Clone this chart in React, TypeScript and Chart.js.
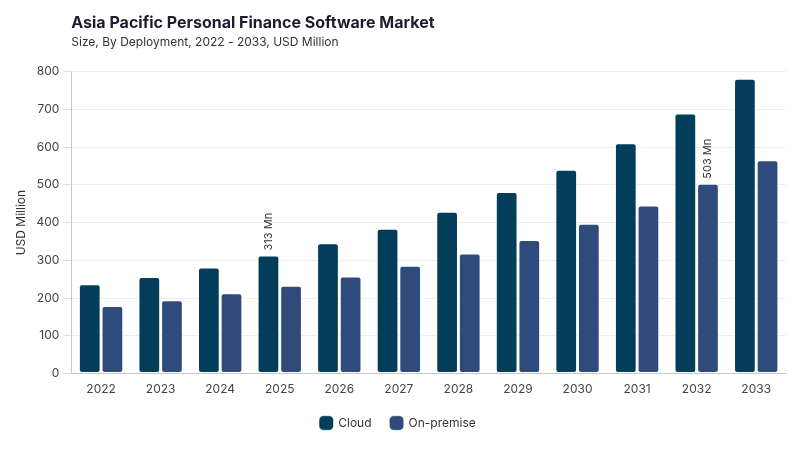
import React, { useEffect, useRef } from 'react';
import { Chart, registerables } from 'chart.js';

Chart.register(...registerables);

const years = ['2022', '2023', '2024', '2025', '2026', '2027', '2028', '2029', '2030', '2031', '2032', '2033'];
const cloud = [237, 256, 281, 313, 345, 384, 429, 481, 540, 610, 689, 781];
const onPremise = [179, 194, 213, 233, 257, 286, 318, 354, 397, 445, 503, 565];
const seriesNames = ['Cloud', 'On-premise'];
const seriesColors = ['#023e5a', '#2f4b7c'];

// which bars carry a rotated value label: [dataset index, category index, text]
const callouts: [number, number, string][] = [
  [0, 3, '313 Mn'],
  [1, 10, '503 Mn'],
];

const FONT = 'Inter, "Noto Sans", sans-serif';

const calloutPlugin = {
  id: 'callouts',
  afterDatasetsDraw(chart: Chart) {
    const ctx = chart.ctx;
    ctx.save();
    ctx.font = `11px ${FONT}`;
    ctx.fillStyle = '#333';
    ctx.textAlign = 'left';
    ctx.textBaseline = 'middle';
    callouts.forEach(([ds, idx, text]) => {
      const bar: any = chart.getDatasetMeta(ds).data[idx];
      if (!bar) return;
      ctx.save();
      ctx.translate(bar.x, bar.y - 5);
      ctx.rotate(-Math.PI / 2);
      ctx.fillText(text, 0, 0);
      ctx.restore();
    });
    ctx.restore();
  },
};

export default function App() {
  const canvasRef = useRef<HTMLCanvasElement>(null);

  useEffect(() => {
    document.body.style.margin = '0';
    if (!canvasRef.current) return;
    const chart = new Chart(canvasRef.current, {
      type: 'bar',
      data: {
        labels: years,
        datasets: [cloud, onPremise].map((values, i) => ({
          label: seriesNames[i],
          data: values,
          backgroundColor: seriesColors[i],
          borderColor: 'rgba(255,255,255,0.6)',
          borderWidth: 1,
          borderRadius: 3,
          borderSkipped: false,
          categoryPercentage: 0.76,
          barPercentage: 0.96,
        })),
      },
      options: {
        animation: false,
        responsive: false,
        layout: { padding: { top: 14, right: 14, left: 10, bottom: 11 } },
        plugins: {
          title: {
            display: true,
            text: 'Asia Pacific Personal Finance Software Market',
            align: 'start',
            fullSize: false,
            color: '#1c1c2e',
            font: { family: FONT, size: 16, weight: 'bold' },
            padding: { top: 0, bottom: 2 },
          },
          subtitle: {
            display: true,
            text: 'Size, By Deployment, 2022 - 2033, USD Million',
            align: 'start',
            fullSize: false,
            color: '#333',
            font: { family: FONT, size: 12 },
            padding: { top: 0, bottom: 22 },
          },
          legend: {
            position: 'bottom',
            labels: {
              usePointStyle: true,
              pointStyle: 'rectRounded',
              boxWidth: 14,
              boxHeight: 14,
              padding: 19,
              color: '#333',
              font: { family: FONT, size: 12 },
            },
          },
          tooltip: { enabled: false },
        },
        scales: {
          x: {
            grid: { display: false },
            border: { display: true, color: '#c8c8c8' },
            ticks: { color: '#444', font: { family: FONT, size: 12 }, padding: 1 },
          },
          y: {
            min: 0,
            max: 800,
            ticks: { stepSize: 100, color: '#444', font: { family: FONT, size: 12 }, padding: 4 },
            grid: { color: '#eeeeee', tickLength: 8, tickColor: '#e0e0e0' },
            border: { display: true, color: '#c8c8c8' },
            title: {
              display: true,
              text: 'USD Million',
              color: '#333',
              font: { family: FONT, size: 12 },
              padding: { bottom: 4 },
            },
          },
        },
      },
      plugins: [calloutPlugin],
    });
    return () => chart.destroy();
  }, []);

  return (
    <div style={{ width: 800, height: 450, background: '#fff' }}>
      <canvas ref={canvasRef} width={800} height={450} style={{ width: 800, height: 450 }} />
    </div>
  );
}
